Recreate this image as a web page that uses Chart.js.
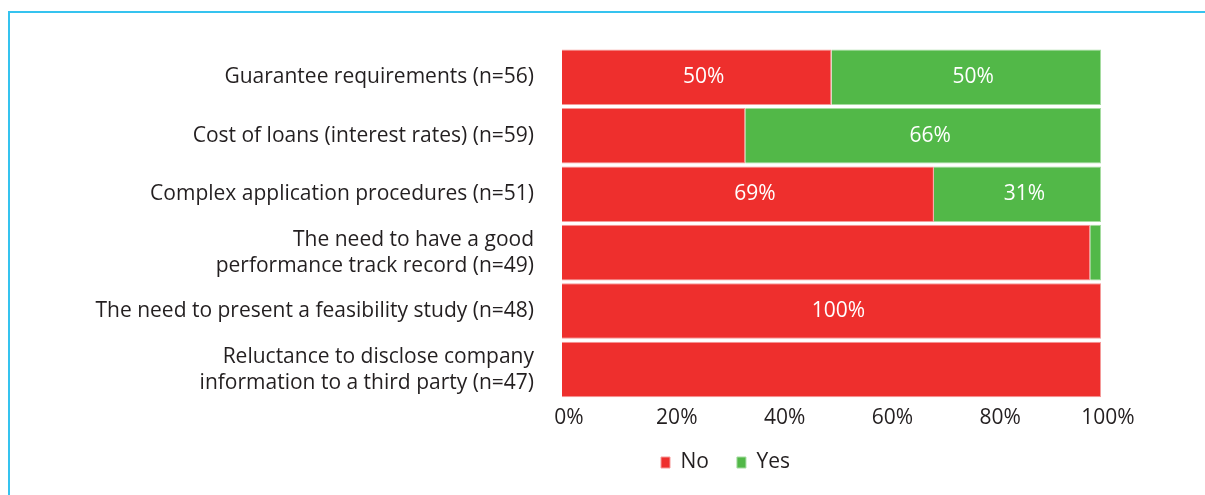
<!DOCTYPE html>
<html>
<head>
<meta charset="utf-8">
<title>Obstacles to obtaining loans</title>
<script src="https://cdn.jsdelivr.net/npm/chart.js@4.4.0/dist/chart.umd.min.js"></script>
<style>
  body { margin: 0; background: #fff; }
  #wrap { position: relative; width: 1205px; height: 495px; overflow: hidden; }
  /* light blue box frame, open to the right and bottom */
  #frame {
    position: absolute; left: 8px; top: 11px; width: 1300px; height: 600px;
    border-left: 2px solid #35c3ef; border-top: 2px solid #35c3ef;
  }
  canvas { position: absolute; left: 0; top: 0; }
</style>
</head>
<body>
<div id="wrap">
  <div id="frame"></div>
  <canvas id="loanChart" width="1205" height="495"></canvas>
</div>
<script>
const categories = [
  "Guarantee requirements (n=56)",
  "Cost of loans (interest rates) (n=59)",
  "Complex application procedures (n=51)",
  ["The need to have a good", "performance track record (n=49)"],
  "The need to present a feasibility study (n=48)",
  ["Reluctance to disclose company", "information to a third party (n=47)"]
];

const noValues = [50, 34, 69, 98, 100, 100];
const yesValues = [50, 66, 31, 2, 0, 0];

// only some segments carry a printed value
const noLabels = ["50%", null, "69%", null, "100%", null];
const yesLabels = ["50%", "66%", "31%", null, null, null];

const xTicks = [0, 20, 40, 60, 80, 100];

const textColor = "#231f20";
const fontFamily = "'Open Sans', 'Liberation Sans', sans-serif";
const fontSize = 21;
const textShift = 7; // printed text sits a little right of the bar geometry

// writes the value text in the middle of a bar segment
const segmentLabels = {
  id: "segmentLabels",
  afterDatasetsDraw(chart) {
    const ctx = chart.ctx;
    ctx.save();
    ctx.fillStyle = "#ffffff";
    ctx.font = fontSize + "px " + fontFamily;
    ctx.textAlign = "center";
    ctx.textBaseline = "middle";
    chart.data.datasets.forEach((ds, i) => {
      const meta = chart.getDatasetMeta(i);
      meta.data.forEach((bar, j) => {
        const txt = ds.valueLabels[j];
        if (!txt) return;
        const left = Math.min(bar.x, bar.base);
        const right = Math.max(bar.x, bar.base);
        ctx.fillText(txt, (left + right) / 2 + textShift, bar.y);
      });
    });
    ctx.restore();
  }
};

// move the legend row under the middle of the labels block
const legendShift = {
  id: "legendShift",
  afterLayout(chart) {
    const lg = chart.legend;
    if (!lg) return;
    lg.left += 175;
    lg.right += 175;
    lg.top -= 14;
    lg.bottom -= 14;
  }
};

new Chart(document.getElementById("loanChart"), {
  type: "bar",
  data: {
    labels: categories,
    datasets: [
      {
        label: "No",
        data: noValues,
        valueLabels: noLabels,
        backgroundColor: "#ee2f2d",
        borderColor: "#f59a99",
        borderWidth: 1,
        barPercentage: 0.95,
        categoryPercentage: 1
      },
      {
        label: "Yes",
        data: yesValues,
        valueLabels: yesLabels,
        backgroundColor: "#52b848",
        borderColor: "#a5dca0",
        borderWidth: 1,
        barPercentage: 0.95,
        categoryPercentage: 1
      }
    ]
  },
  options: {
    indexAxis: "y",
    responsive: false,
    animation: false,
    layout: { padding: { left: 0, right: 104, top: 48, bottom: -2 } },
    plugins: {
      tooltip: { enabled: false },
      legend: {
        position: "bottom",
        labels: {
          color: textColor,
          font: { family: fontFamily, size: fontSize },
          boxWidth: 9,
          boxHeight: 11,
          padding: 28
        }
      }
    },
    scales: {
      x: {
        stacked: true,
        min: 0,
        max: 100,
        afterBuildTicks(axis) {
          axis.ticks = xTicks.map(v => ({ value: v }));
        },
        grid: { display: false, drawTicks: false },
        border: { display: false },
        ticks: {
          color: textColor,
          font: { family: fontFamily, size: fontSize },
          padding: 7,
          labelOffset: textShift,
          maxRotation: 0,
          callback: v => v + "%"
        }
      },
      y: {
        stacked: true,
        afterFit(axis) {
          axis.width = 562;
          axis.paddingTop = 0;
          axis.paddingBottom = 0;
        },
        grid: { display: false, drawTicks: false },
        border: { display: false },
        ticks: {
          color: textColor,
          font: { family: fontFamily, size: fontSize, lineHeight: 1.24 },
          padding: 28
        }
      }
    }
  },
  plugins: [segmentLabels, legendShift]
});
</script>
</body>
</html>
